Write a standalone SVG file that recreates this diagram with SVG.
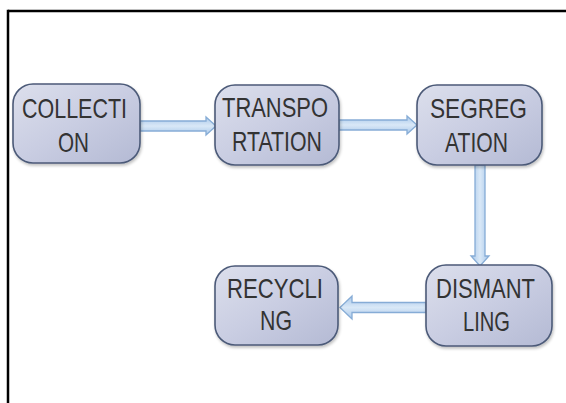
<svg xmlns="http://www.w3.org/2000/svg" width="566" height="403" viewBox="0 0 566 403">
  <defs>
    <linearGradient id="nodeFill" x1="0" y1="0" x2="1" y2="1">
      <stop offset="0" stop-color="#dcdfec"/>
      <stop offset="0.5" stop-color="#c9cde2"/>
      <stop offset="1" stop-color="#b4bad4"/>
    </linearGradient>
    <linearGradient id="arrowH" x1="0" y1="0" x2="0" y2="1">
      <stop offset="0" stop-color="#a9c8ea"/>
      <stop offset="0.5" stop-color="#d9e8f7"/>
      <stop offset="1" stop-color="#a9c8ea"/>
    </linearGradient>
    <linearGradient id="arrowV" x1="0" y1="0" x2="1" y2="0">
      <stop offset="0" stop-color="#a9c8ea"/>
      <stop offset="0.5" stop-color="#d9e8f7"/>
      <stop offset="1" stop-color="#a9c8ea"/>
    </linearGradient>
    <filter id="shadow" x="-10%" y="-10%" width="130%" height="130%">
      <feGaussianBlur in="SourceAlpha" stdDeviation="1.5"/>
      <feOffset dx="1" dy="2" result="b"/>
      <feComponentTransfer><feFuncA type="linear" slope="0.25"/></feComponentTransfer>
      <feMerge><feMergeNode/><feMergeNode in="SourceGraphic"/></feMerge>
    </filter>
  </defs>
  <style>
    .box { fill: url(#nodeFill); stroke: #4c5a78; stroke-width: 1.6; filter: url(#shadow); }
    .lbl { font-family: "Liberation Sans", Arial, sans-serif; font-size: 28px; fill: #333333; text-anchor: middle; }
    .arrH { fill: url(#arrowH); stroke: #86acd6; stroke-width: 1.3; stroke-linejoin: miter; }
    .arrV { fill: url(#arrowV); stroke: #86acd6; stroke-width: 1.3; stroke-linejoin: miter; }
    .frame { stroke: #000000; stroke-width: 2.5; fill: none; }
  </style>
  <rect width="566" height="403" fill="#ffffff"/>
  <g id="frame">
    <line class="frame" x1="8" y1="11" x2="566" y2="11"/>
    <line class="frame" x1="8" y1="9.8" x2="8" y2="403"/>
  </g>
  <g id="connectors">
    <path class="arrH" d="M140,121 L206,121 L206,117 L216,126 L206,135 L206,131 L140,131 Z"/>
    <path class="arrH" d="M339,120 L407,120 L407,116 L417,125 L407,134 L407,130 L339,130 Z"/>
    <path class="arrV" d="M475,165 L475,256 L471,256 L480,266 L489,256 L485,256 L485,165 Z"/>
    <path class="arrH" d="M426,302.5 L352,302.5 L352,296 L340,307.5 L352,319 L352,312.5 L426,312.5 Z"/>
  </g>
  <g id="collection">
    <rect class="box" x="13" y="84" width="127" height="79" rx="20"/>
    <text class="lbl" x="74.5" y="118" textLength="105" lengthAdjust="spacingAndGlyphs">COLLECTI</text>
    <text class="lbl" x="73.5" y="152" textLength="31" lengthAdjust="spacingAndGlyphs">ON</text>
  </g>
  <g id="transportation">
    <rect class="box" x="215" y="85" width="124" height="80" rx="20"/>
    <text class="lbl" x="275" y="117" textLength="106" lengthAdjust="spacingAndGlyphs">TRANSPO</text>
    <text class="lbl" x="277" y="151" textLength="90" lengthAdjust="spacingAndGlyphs">RTATION</text>
  </g>
  <g id="segregation">
    <rect class="box" x="417" y="85" width="125" height="80" rx="20"/>
    <text class="lbl" x="478.5" y="118" textLength="97" lengthAdjust="spacingAndGlyphs">SEGREG</text>
    <text class="lbl" x="476.5" y="152" textLength="63" lengthAdjust="spacingAndGlyphs">ATION</text>
  </g>
  <g id="dismantling">
    <rect class="box" x="426" y="265" width="126" height="81" rx="20"/>
    <text class="lbl" x="485.5" y="298" textLength="99" lengthAdjust="spacingAndGlyphs">DISMANT</text>
    <text class="lbl" x="486.5" y="331" textLength="47" lengthAdjust="spacingAndGlyphs">LING</text>
  </g>
  <g id="recycling">
    <rect class="box" x="215" y="266" width="123" height="79" rx="20"/>
    <text class="lbl" x="275" y="298" textLength="96" lengthAdjust="spacingAndGlyphs">RECYCLI</text>
    <text class="lbl" x="276" y="330" textLength="32" lengthAdjust="spacingAndGlyphs">NG</text>
  </g>
</svg>
